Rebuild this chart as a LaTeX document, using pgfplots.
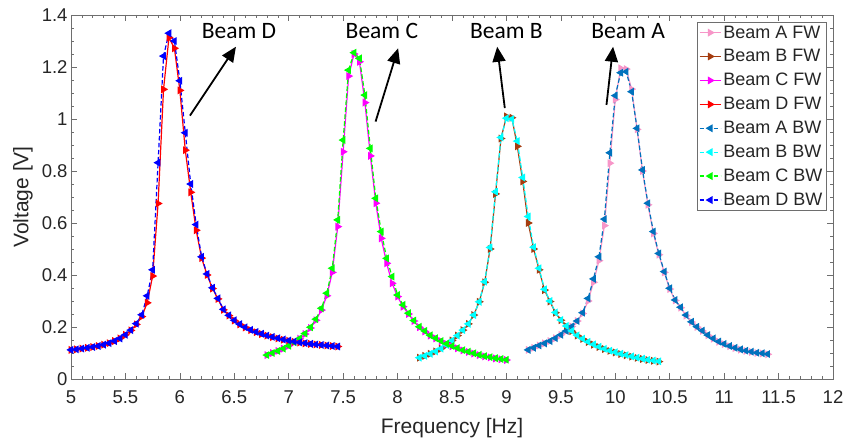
\documentclass[border=0pt]{standalone}
\usepackage{fontspec}
\setmainfont{Liberation Sans}
\newfontfamily\calib{Carlito}
\usepackage{pgfplots}
\pgfplotsset{compat=1.18}
\usetikzlibrary{arrows.meta,calc}
\definecolor{cAFW}{RGB}{247,150,200}
\definecolor{cBFW}{RGB}{165,60,15}
\definecolor{cCFW}{RGB}{255,0,255}
\definecolor{cDFW}{RGB}{255,0,0}
\definecolor{cABW}{RGB}{0,114,189}
\definecolor{cBBW}{RGB}{0,255,255}
\definecolor{cCBW}{RGB}{0,255,0}
\definecolor{cDBW}{RGB}{0,0,255}
\definecolor{axgray}{RGB}{110,110,110}
\begin{document}
\begin{tikzpicture}
\begin{axis}[name=ax, scale only axis, width=762bp, height=364bp,
  xmin=5, xmax=12, ymin=0, ymax=1.4,
  xtick={5,5.5,6,6.5,7,7.5,8,8.5,9,9.5,10,10.5,11,11.5,12},
  ytick={0,0.2,0.4,0.6,0.8,1,1.2,1.4},
  minor x tick num=4, minor y tick num=3,
  tick align=inside, major tick length=6bp, minor tick length=3.5bp,
  axis line style={axgray}, tick style={axgray, line width=0.6bp},
  /pgf/number format/assume math mode=true,
  every tick label/.append style={font=\fontsize{18.5bp}{20bp}\selectfont, text=black!85},
  xticklabel style={yshift=-8bp},
  xlabel={Frequency [Hz]}, ylabel={Voltage [V]},
  label style={font=\fontsize{21bp}{24bp}\selectfont, text=black!85},
  xlabel style={at={(axis description cs:0.5,-0.1346)}, anchor=center},
  ylabel style={at={(axis description cs:-0.063,0.5)}, anchor=center},
  legend style={at={(1,1)}, anchor=north east, xshift=-7bp, yshift=-7bp,
    draw=axgray, font=\fontsize{18bp}{20bp}\selectfont, text=black!85,
    cells={anchor=west}, inner sep=1.5bp, row sep=6bp},
  legend image code/.code={\draw[mark repeat=2,mark phase=2] plot coordinates {(0bp,0bp)(10.5bp,0bp)(21bp,0bp)};},
  every axis plot/.append style={line width=1.2bp, mark size=3.4bp},
  fw/.style={solid, mark=triangle*, mark options={solid, rotate=-90}},
  bw/.style={dash pattern=on 4.5bp off 2.5bp, mark=triangle*, mark options={solid, rotate=90}},
]
% ---------- FW ----------
\addplot[fw, color=cAFW] table {
9.20 0.112
9.25 0.120
9.30 0.129
9.35 0.137
9.40 0.146
9.45 0.157
9.50 0.170
9.55 0.185
9.60 0.202
9.65 0.223
9.70 0.252
9.75 0.300
9.80 0.372
9.85 0.455
9.90 0.590
9.95 0.830
10.00 1.075
10.05 1.195
10.10 1.192
10.15 1.115
10.20 0.960
10.25 0.800
10.30 0.670
10.35 0.560
10.40 0.478
10.45 0.410
10.50 0.346
10.55 0.302
10.60 0.274
10.65 0.244
10.70 0.219
10.75 0.200
10.80 0.185
10.85 0.168
10.90 0.155
10.95 0.143
11.00 0.134
11.05 0.126
11.10 0.119
11.15 0.113
11.20 0.108
11.25 0.104
11.30 0.100
11.35 0.098
11.40 0.095
};
\addlegendentry{Beam A FW}
\addplot[fw, color=cBFW] table {
8.20 0.082
8.25 0.089
8.30 0.097
8.35 0.106
8.40 0.117
8.45 0.131
8.50 0.148
8.55 0.167
8.60 0.188
8.65 0.212
8.70 0.246
8.75 0.297
8.80 0.372
8.85 0.500
8.90 0.712
8.95 0.925
9.00 1.010
9.05 1.005
9.10 0.895
9.15 0.760
9.20 0.600
9.25 0.500
9.30 0.420
9.35 0.342
9.40 0.298
9.45 0.255
9.50 0.226
9.55 0.203
9.60 0.184
9.65 0.167
9.70 0.154
9.75 0.142
9.80 0.132
9.85 0.123
9.90 0.115
9.95 0.108
10.00 0.102
10.05 0.096
10.10 0.091
10.15 0.086
10.20 0.081
10.25 0.077
10.30 0.073
10.35 0.070
10.40 0.067
};
\addlegendentry{Beam B FW}
\addplot[fw, color=cCFW] table {
6.80 0.092
6.85 0.100
6.90 0.108
6.95 0.117
7.00 0.128
7.05 0.141
7.10 0.155
7.15 0.173
7.20 0.196
7.25 0.226
7.30 0.265
7.35 0.320
7.40 0.410
7.45 0.586
7.50 0.874
7.55 1.165
7.60 1.250
7.65 1.220
7.70 1.063
7.75 0.858
7.80 0.676
7.85 0.541
7.90 0.445
7.95 0.368
8.00 0.317
8.05 0.278
8.10 0.250
8.15 0.223
8.20 0.199
8.25 0.183
8.30 0.167
8.35 0.156
8.40 0.145
8.45 0.135
8.50 0.126
8.55 0.118
8.60 0.110
8.65 0.104
8.70 0.098
8.75 0.092
8.80 0.087
8.85 0.083
8.90 0.079
8.95 0.076
9.00 0.073
};
\addlegendentry{Beam C FW}
\addplot[fw, color=cDFW] table {
5.00 0.112
5.05 0.114
5.10 0.117
5.15 0.120
5.20 0.123
5.25 0.127
5.30 0.132
5.35 0.138
5.40 0.146
5.45 0.156
5.50 0.170
5.55 0.187
5.60 0.210
5.65 0.240
5.70 0.293
5.75 0.396
5.80 0.675
5.85 1.114
5.90 1.313
5.95 1.272
6.00 1.110
6.05 0.880
6.10 0.718
6.15 0.572
6.20 0.465
6.25 0.400
6.30 0.348
6.35 0.308
6.40 0.266
6.45 0.244
6.50 0.225
6.55 0.210
6.60 0.198
6.65 0.188
6.70 0.180
6.75 0.173
6.80 0.167
6.85 0.161
6.90 0.156
6.95 0.151
7.00 0.147
7.05 0.143
7.10 0.140
7.15 0.137
7.20 0.135
7.25 0.133
7.30 0.131
7.35 0.129
7.40 0.127
7.45 0.125
};
\addlegendentry{Beam D FW}
% ---------- BW ----------
\addplot[bw, color=cABW] table {
9.20 0.112
9.25 0.120
9.30 0.129
9.35 0.137
9.40 0.146
9.45 0.157
9.50 0.170
9.55 0.185
9.60 0.202
9.65 0.223
9.70 0.255
9.75 0.310
9.80 0.385
9.85 0.470
9.90 0.615
9.95 0.870
10.00 1.090
10.05 1.178
10.10 1.182
10.15 1.105
10.20 0.964
10.25 0.804
10.30 0.676
10.35 0.567
10.40 0.483
10.45 0.413
10.50 0.349
10.55 0.304
10.60 0.276
10.65 0.246
10.70 0.220
10.75 0.201
10.80 0.186
10.85 0.169
10.90 0.156
10.95 0.144
11.00 0.135
11.05 0.127
11.10 0.120
11.15 0.114
11.20 0.109
11.25 0.105
11.30 0.101
11.35 0.099
11.40 0.096
};
\addlegendentry{Beam A BW}
\addplot[bw, color=cBBW] table {
8.20 0.082
8.25 0.089
8.30 0.097
8.35 0.106
8.40 0.117
8.45 0.131
8.50 0.148
8.55 0.167
8.60 0.188
8.65 0.212
8.70 0.246
8.75 0.297
8.80 0.374
8.85 0.506
8.90 0.720
8.95 0.929
9.00 1.003
9.05 1.000
9.10 0.915
9.15 0.775
9.20 0.625
9.25 0.507
9.30 0.426
9.35 0.345
9.40 0.300
9.45 0.256
9.50 0.227
9.55 0.204
9.60 0.185
9.65 0.168
9.70 0.155
9.75 0.143
9.80 0.133
9.85 0.124
9.90 0.116
9.95 0.109
10.00 0.103
10.05 0.097
10.10 0.092
10.15 0.087
10.20 0.082
10.25 0.078
10.30 0.074
10.35 0.071
10.40 0.068
};
\addlegendentry{Beam B BW}
\addplot[bw, color=cCBW] table {
6.80 0.092
6.85 0.100
6.90 0.108
6.95 0.117
7.00 0.128
7.05 0.141
7.10 0.156
7.15 0.175
7.20 0.199
7.25 0.230
7.30 0.272
7.35 0.330
7.40 0.426
7.45 0.612
7.50 0.919
7.55 1.188
7.60 1.255
7.65 1.233
7.70 1.092
7.75 0.887
7.80 0.695
7.85 0.567
7.90 0.464
7.95 0.394
8.00 0.323
8.05 0.285
8.10 0.253
8.15 0.225
8.20 0.201
8.25 0.185
8.30 0.168
8.35 0.157
8.40 0.146
8.45 0.136
8.50 0.127
8.55 0.119
8.60 0.111
8.65 0.105
8.70 0.099
8.75 0.093
8.80 0.088
8.85 0.084
8.90 0.080
8.95 0.077
9.00 0.074
};
\addlegendentry{Beam C BW}
\addplot[bw, color=cDBW] table {
5.00 0.112
5.05 0.114
5.10 0.117
5.15 0.120
5.20 0.123
5.25 0.127
5.30 0.132
5.35 0.138
5.40 0.146
5.45 0.156
5.50 0.170
5.55 0.188
5.60 0.213
5.65 0.247
5.70 0.320
5.75 0.420
5.80 0.832
5.85 1.242
5.90 1.330
5.95 1.300
6.00 1.147
6.05 0.947
6.10 0.750
6.15 0.594
6.20 0.470
6.25 0.404
6.30 0.351
6.35 0.310
6.40 0.268
6.45 0.245
6.50 0.226
6.55 0.211
6.60 0.199
6.65 0.189
6.70 0.181
6.75 0.174
6.80 0.167
6.85 0.162
6.90 0.157
6.95 0.152
7.00 0.148
7.05 0.144
7.10 0.141
7.15 0.138
7.20 0.135
7.25 0.133
7.30 0.131
7.35 0.129
7.40 0.127
7.45 0.125
};
\addlegendentry{Beam D BW}
% ---------- annotations ----------
\draw[line width=1.8bp, -{Triangle[width=13bp,length=15bp]}] (axis cs:6.093,1.013) -- (axis cs:6.515,1.278);
\draw[line width=1.8bp, -{Triangle[width=13bp,length=15bp]}] (axis cs:7.798,0.990) -- (axis cs:8.005,1.272);
\draw[line width=1.8bp, -{Triangle[width=13bp,length=15bp]}] (axis cs:8.985,1.042) -- (axis cs:8.915,1.278);
\draw[line width=1.8bp, -{Triangle[width=13bp,length=15bp]}] (axis cs:9.919,1.054) -- (axis cs:9.980,1.278);
\node[font=\calib\fontsize{23.5bp}{26bp}\selectfont, inner sep=0pt] at (axis cs:6.543,1.338) {Beam D};
\node[font=\calib\fontsize{23.5bp}{26bp}\selectfont, inner sep=0pt] at (axis cs:7.856,1.338) {Beam C};
\node[font=\calib\fontsize{23.5bp}{26bp}\selectfont, inner sep=0pt] at (axis cs:9.000,1.338) {Beam B};
\node[font=\calib\fontsize{23.5bp}{26bp}\selectfont, inner sep=0pt] at (axis cs:10.118,1.338) {Beam A};
\end{axis}
\pgfresetboundingbox
\path ($(ax.south west)+(-71bp,-66bp)$) rectangle ($(ax.north east)+(12bp,15bp)$);
\end{tikzpicture}
\end{document}
